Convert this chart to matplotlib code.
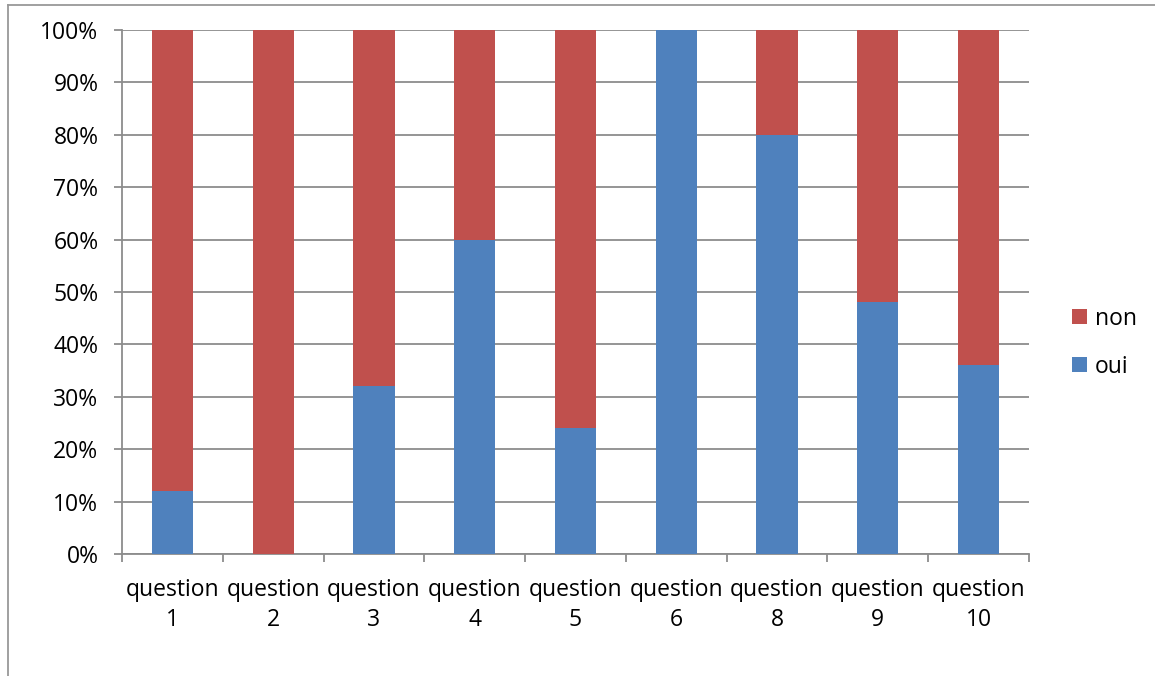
import matplotlib.pyplot as plt
import matplotlib.ticker as mtick
from matplotlib.lines import Line2D
import numpy as np

plt.rcParams['font.family'] = ['Open Sans', 'DejaVu Sans']

# data (percent)
questions = ['question\n1', 'question\n2', 'question\n3', 'question\n4', 'question\n5',
             'question\n6', 'question\n8', 'question\n9', 'question\n10']
oui = [12, 0, 32, 60, 24, 100, 80, 48, 36]
non = [88, 100, 68, 40, 76, 0, 20, 52, 64]

blue = '#4F81BD'
red = '#C0504D'
grey = '#8c8c8c'
fs = 16.5

fig = plt.figure(figsize=(11.55, 6.76), dpi=100)
ax = fig.add_axes([122/1155, 1 - 554/676, (1029 - 122)/1155, (554 - 30)/676])

x = np.arange(len(questions))
ax.bar(x, oui, width=0.41, color=blue, label='oui', zorder=3)
ax.bar(x, non, width=0.41, bottom=oui, color=red, label='non', zorder=3)

ax.set_xlim(-0.5, len(questions) - 0.5)
ax.set_ylim(0, 100)
ax.yaxis.set_major_locator(mtick.MultipleLocator(10))
ax.yaxis.set_major_formatter(mtick.PercentFormatter(decimals=0))
ax.grid(axis='y', color=grey, lw=1.3, zorder=0)

ax.set_xticks(x)
ax.set_xticklabels(questions, fontsize=fs, linespacing=1.35)
ax.set_xticks(np.arange(-0.5, len(questions)), minor=True)
ax.tick_params(axis='x', which='major', length=0, pad=17)
ax.tick_params(axis='x', which='minor', length=6, width=1.3, color=grey)
ax.tick_params(axis='y', length=6, width=1.3, color=grey, labelsize=fs, pad=11)

for s in ['top', 'right']:
    ax.spines[s].set_visible(False)
for s in ['left', 'bottom']:
    ax.spines[s].set_color(grey)
    ax.spines[s].set_linewidth(1.3)

handles, labels = ax.get_legend_handles_labels()
ax.legend(handles[::-1], labels[::-1], loc='center left', bbox_to_anchor=(1.047, 0.403),
          frameon=False, fontsize=fs, handlelength=0.65, handleheight=0.65,
          handletextpad=0.35, labelspacing=1.05, borderpad=0, borderaxespad=0)

# outer chart frame (partly cropped in the original)
fig.add_artist(Line2D([8/1155, 1], [1 - 5/676, 1 - 5/676], color='#999999', lw=1.3))
fig.add_artist(Line2D([8/1155, 8/1155], [0, 1 - 5/676], color='#999999', lw=1.3))

fig.savefig('out.png', dpi=100)
